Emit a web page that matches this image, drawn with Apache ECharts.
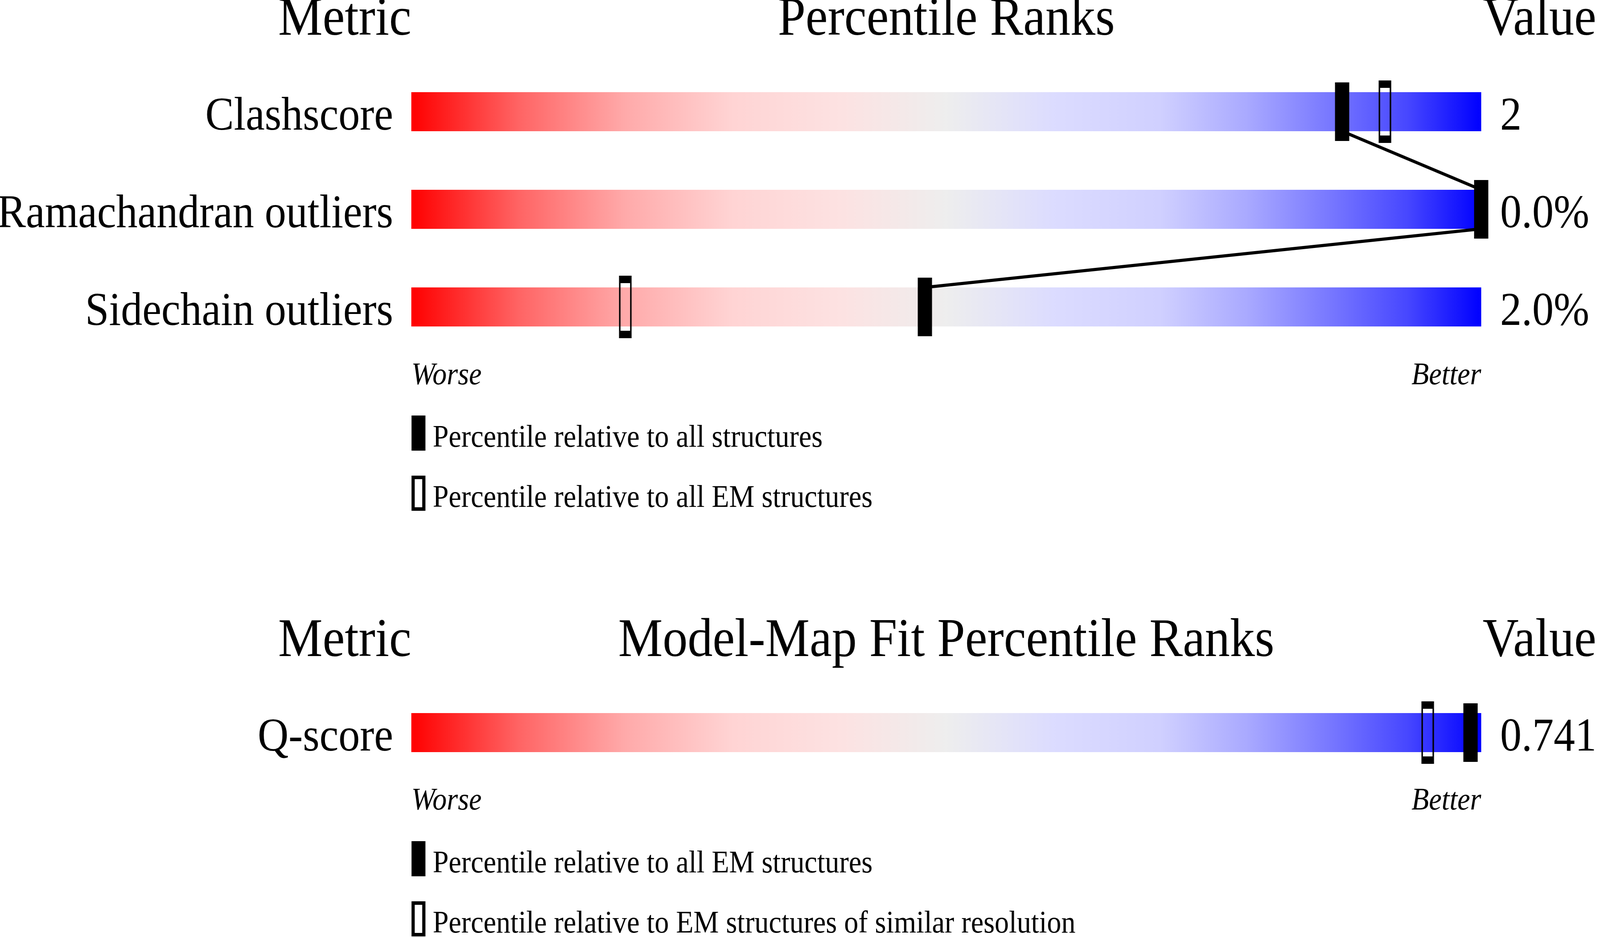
<!DOCTYPE html>
<html>
<head>
<meta charset="utf-8">
<title>Percentile Ranks</title>
<script src="https://cdn.jsdelivr.net/npm/echarts@6/dist/echarts.min.js"></script>
<style>
    html, body { margin: 0; padding: 0; background: #fff; overflow: hidden; width: 100%; height: 100%; }
    #chart { width: 4485px; height: 2402px; transform-origin: 0 0; }
</style>
</head>
<body>
<div id="chart"></div>
<script>
// 上半部分: geometry metrics
var metrics = ['Clashscore', 'Ramachandran outliers', 'Sidechain outliers'];
var metricValues = ['2', '0.0%', '2.0%'];
var pctAll = [87, 100, 48];
var pctAllEM = [91, null, 20];

// 下半部分: model-map fit
var fitMetrics = ['Q-score'];
var fitValues = ['0.741'];
var fitPctAllEM = [99];
var fitPctSimRes = [95];

var axisEnds = ['Worse', 'Better'];
var legendTop = ['Percentile relative to all structures', 'Percentile relative to all EM structures'];
var legendBottom = ['Percentile relative to all EM structures', 'Percentile relative to EM structures of similar resolution'];

const sliderChart = {
    font: 'Liberation Serif',
    W: 4485,
    H: 2402,
    init: function () {
        var el = document.getElementById('chart');
        // 固定设计尺寸 4485x2402, 整体缩放到窗口
        var sx = document.documentElement.clientWidth / this.W || 1;
        var sy = document.documentElement.clientHeight / this.H || 1;
        el.style.transform = 'scale(' + sx + ',' + sy + ')';
        this.chart = echarts.init(el);
        this.render();
    },
    gradient: function () {
        return new echarts.graphic.LinearGradient(0, 0, 1, 0, [
            { offset: 0, color: '#ff0000' },
            { offset: 0.1, color: '#ff6464' },
            { offset: 0.2, color: '#ffaaaa' },
            { offset: 0.3, color: '#ffd4d4' },
            { offset: 0.4, color: '#fde2e2' },
            { offset: 0.5, color: '#eeeeee' },
            { offset: 0.6, color: '#dcdcff' },
            { offset: 0.7, color: '#d0d0ff' },
            { offset: 0.78, color: '#aaaaff' },
            { offset: 0.86, color: '#7777ff' },
            { offset: 0.93, color: '#4848ff' },
            { offset: 1, color: '#0000ff' }
        ]);
    },
    xAxis: function (gridIndex, margin) {
        return {
            type: 'value', gridIndex: gridIndex, min: 0, max: 100, interval: 100,
            axisLine: { show: false }, axisTick: { show: false }, splitLine: { show: false },
            axisLabel: {
                margin: margin, fontSize: 80, fontStyle: 'italic', fontFamily: this.font, color: '#000',
                lineHeight: 80, alignMinLabel: 'left', alignMaxLabel: 'right',
                formatter: function (v) { return v === 0 ? axisEnds[0] : axisEnds[1]; }
            }
        };
    },
    yAxis: function (gridIndex, data, position, margin) {
        // verticalAlign top + lineHeight 28: 文字中线比柱子中线低 14px
        return {
            type: 'category', gridIndex: gridIndex, data: data, position: position, inverse: true,
            axisLine: { show: false }, axisTick: { show: false }, splitLine: { show: false },
            axisLabel: {
                margin: margin, fontSize: 120, fontFamily: this.font, color: '#000',
                verticalAlign: 'top', lineHeight: 28
            }
        };
    },
    markers: function (name, pct, axisIdx, hollow) {
        var data = pct.map(function (v, i) { return v == null ? null : [v, i]; }).filter(function (d) { return d; });
        return {
            name: name, type: 'scatter', xAxisIndex: axisIdx, yAxisIndex: axisIdx * 2, z: hollow ? 5 : 6,
            symbol: 'rect', silent: true, data: data,
            symbolSize: hollow ? [31, 141] : [40, 150],
            itemStyle: hollow
                ? { color: 'rgba(0,0,0,0)', borderColor: '#000', borderWidth: 9, opacity: 1 }
                : { color: '#000', opacity: 1 }
        };
    },
    legend: function (names, top) {
        return {
            orient: 'vertical', left: 1153.5, top: top, height: 600,
            padding: 0, selectedMode: false,
            itemWidth: 30, itemHeight: 81, itemGap: 46,
            // rich 的上边距把文字往下推, 文字块比图标高, 所以 top 和 itemGap 往回收
            formatter: function (name) { return '{t|' + name + '}'; },
            textStyle: {
                color: '#000',
                rich: {
                    t: { fontSize: 80, fontFamily: this.font, color: '#000', lineHeight: 81, padding: [28, 0, 0, 20] }
                }
            },
            data: [
                { name: names[0], icon: 'rect', itemStyle: { color: '#000', borderColor: '#000', borderWidth: 9 } },
                { name: names[1], icon: 'rect', itemStyle: { color: 'rgba(0,0,0,0)', borderColor: '#000', borderWidth: 9 } }
            ]
        };
    },
    header: function (text, x, y, align) {
        return {
            type: 'text', x: x, y: y, silent: true,
            style: {
                text: text, fill: '#000', font: '140px "' + this.font + '"',
                align: align, textAlign: align, verticalAlign: 'middle', textVerticalAlign: 'middle'
            }
        };
    },
    render: function () {
        var _this = this;
        var links = pctAll.slice(0, -1).map(function (v, i) { return [v, i, pctAll[i + 1], i + 1]; });
        var barLeft = 1153, barRight = 4152, mid = (barLeft + barRight) / 2;

        var option = {
            backgroundColor: '#fff',
            animation: false,
            grid: [
                { left: barLeft, right: _this.W - barRight, top: 161, height: 750, containLabel: false, outerBoundsMode: 'none' },
                { left: barLeft, right: _this.W - barRight, top: 1751, height: 250, containLabel: false, outerBoundsMode: 'none' }
            ],
            xAxis: [_this.xAxis(0, 12), _this.xAxis(1, 11)],
            yAxis: [
                _this.yAxis(0, metrics, 'left', 51),
                _this.yAxis(0, metricValues, 'right', 53),
                _this.yAxis(1, fitMetrics, 'left', 51),
                _this.yAxis(1, fitValues, 'right', 53)
            ],
            legend: [_this.legend(legendTop, 1055), _this.legend(legendBottom, 2145)],
            graphic: [
                _this.header('Metric', barLeft, 52, 'right'),
                _this.header('Percentile Ranks', mid, 52, 'center'),
                _this.header('Value', barRight + 4, 52, 'left'),
                _this.header('Metric', barLeft, 1643, 'right'),
                _this.header('Model-Map Fit Percentile Ranks', mid, 1643, 'center'),
                _this.header('Value', barRight + 4, 1643, 'left')
            ],
            series: [
                {
                    type: 'bar', xAxisIndex: 0, yAxisIndex: 0, barWidth: 100, silent: true, z: 2,
                    data: metrics.map(function () { return 100; }),
                    itemStyle: { color: _this.gradient() }
                },
                {
                    type: 'bar', xAxisIndex: 1, yAxisIndex: 2, barWidth: 100, silent: true, z: 2,
                    data: fitMetrics.map(function () { return 100; }),
                    itemStyle: { color: _this.gradient() }
                },
                {
                    // 连接线: 从上一行柱子底部到下一行柱子顶部
                    type: 'custom', coordinateSystem: 'cartesian2d', xAxisIndex: 0, yAxisIndex: 0,
                    silent: true, z: 4, data: links, encode: { x: [0, 2], y: [1, 3] },
                    renderItem: function (params, api) {
                        var p1 = api.coord([api.value(0), api.value(1)]);
                        var p2 = api.coord([api.value(2), api.value(3)]);
                        return {
                            type: 'line',
                            shape: { x1: p1[0], y1: p1[1] + 50, x2: p2[0], y2: p2[1] - 50 },
                            style: { stroke: '#000', lineWidth: 8 }
                        };
                    }
                },
                _this.markers(legendTop[0], pctAll, 0, false),
                _this.markers(legendTop[1], pctAllEM, 0, true),
                _this.markers(legendBottom[0], fitPctAllEM, 1, false),
                _this.markers(legendBottom[1], fitPctSimRes, 1, true)
            ]
        };
        _this.chart.clear();
        _this.chart.setOption(option);
    }
};

sliderChart.init();
</script>
</body>
</html>
